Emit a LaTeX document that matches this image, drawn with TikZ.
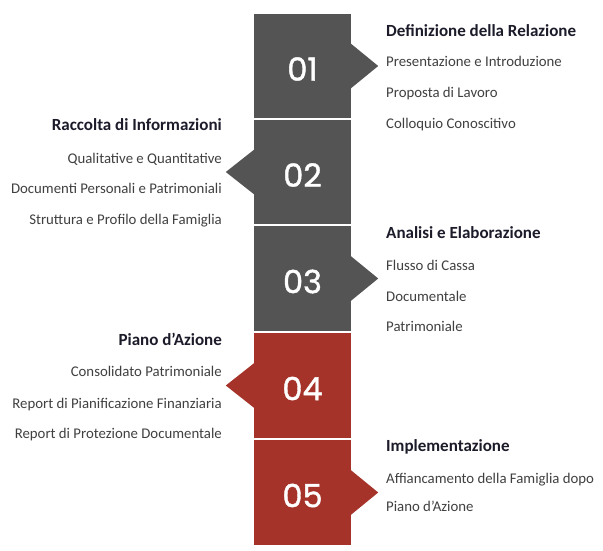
\documentclass[tikz,border=0pt]{standalone}
\usepackage{fontspec}
\setmainfont{Carlito}
\newfontfamily\numfont[FakeBold=1.2]{Poppins}
\definecolor{blockgrey}{HTML}{545454}
\definecolor{blockred}{HTML}{A6332A}
\definecolor{titlecol}{HTML}{1B1B2A}
\definecolor{bodycol}{HTML}{404040}
\begin{document}
\begin{tikzpicture}[x=1pt,y=-1pt,
  blk/.style={minimum width=97pt,minimum height=104.5pt,inner sep=0pt},
  num/.style={inner sep=0pt,text=white,font=\numfont\fontsize{32}{32}\selectfont},
  ttl/.style={inner sep=0pt,text=titlecol,font=\bfseries\fontsize{17}{17}\selectfont},
  itm/.style={inner sep=0pt,text=bodycol,font=\fontsize{14.8}{14.8}\selectfont}]
\useasboundingbox[fill=white] (0,0) rectangle (603,551);
% blocks
\node[blk,fill=blockgrey] (b1) at (302.5,66) {};
\node[blk,fill=blockgrey] (b2) at (302.5,172) {};
\node[blk,fill=blockgrey] (b3) at (302.5,278.5) {};
\node[blk,fill=blockred] (b4) at (302.5,385.5) {};
\node[blk,fill=blockred] (b5) at (302.5,492.5) {};
% numbers
\node[num] (n1) at ([yshift=-3pt]b1.center) {01};
\node[num] (n2) at ([yshift=-3pt]b2.center) {02};
\node[num] (n3) at ([yshift=-3pt]b3.center) {03};
\node[num] (n4) at ([yshift=-3pt]b4.center) {04};
\node[num] (n5) at ([yshift=-3pt]b5.center) {05};
% pointers
\fill[blockgrey] (b1.east) ++(-0.5,-22.5) -- ++(27.5,22.5) -- ++(-27.5,22.5) -- cycle;
\fill[blockgrey] (b2.west) ++(0.5,-22.5) -- ++(-28.5,22.5) -- ++(28.5,22.5) -- cycle;
\fill[blockgrey] (b3.east) ++(-0.5,-22.5) -- ++(27.5,22.5) -- ++(-27.5,22.5) -- cycle;
\fill[blockred] (b4.west) ++(0.5,-22.5) -- ++(-28.5,22.5) -- ++(28.5,22.5) -- cycle;
\fill[blockred] (b5.east) ++(-0.5,-22.5) -- ++(27.5,22.5) -- ++(-27.5,22.5) -- cycle;
% group 1
\node[ttl,anchor=base west] (t1) at (386,36.5) {Definizione della Relazione};
\node[itm,anchor=base west] (t1a) at (386,67) {Presentazione e Introduzione};
\node[itm,anchor=base west] (t1b) at (386,97.7) {Proposta di Lavoro};
\node[itm,anchor=base west] (t1c) at (386,128.3) {Colloquio Conoscitivo};
% group 2
\node[ttl,anchor=base east] (t2) at (222,130.7) {Raccolta di Informazioni};
\node[itm,anchor=base east] (t2a) at (222,163.3) {Qualitative e Quantitative};
\node[itm,anchor=base east] (t2b) at (222,193.3) {Documenti Personali e Patrimoniali};
\node[itm,anchor=base east] (t2c) at (222,224) {Struttura e Profilo della Famiglia};
% group 3
\node[ttl,anchor=base west] (t3) at (386,238.3) {Analisi e Elaborazione};
\node[itm,anchor=base west] (t3a) at (386,270) {Flusso di Cassa};
\node[itm,anchor=base west] (t3b) at (386,301.7) {Documentale};
\node[itm,anchor=base west] (t3c) at (386,331.7) {Patrimoniale};
% group 4
\node[ttl,anchor=base east] (t4) at (222,345.7) {Piano d’Azione};
\node[itm,anchor=base east] (t4a) at (222,376.7) {Consolidato Patrimoniale};
\node[itm,anchor=base east] (t4b) at (222,408.3) {Report di Pianificazione Finanziaria};
\node[itm,anchor=base east] (t4c) at (222,438.3) {Report di Protezione Documentale};
% group 5
\node[ttl,anchor=base west] (t5) at (386,451.7) {Implementazione};
\node[itm,anchor=base west] (t5a) at (386,483.3) {Affiancamento della Famiglia dopo};
\node[itm,anchor=base west] (t5b) at (386,511.7) {Piano d’Azione};
\end{tikzpicture}
\end{document}
